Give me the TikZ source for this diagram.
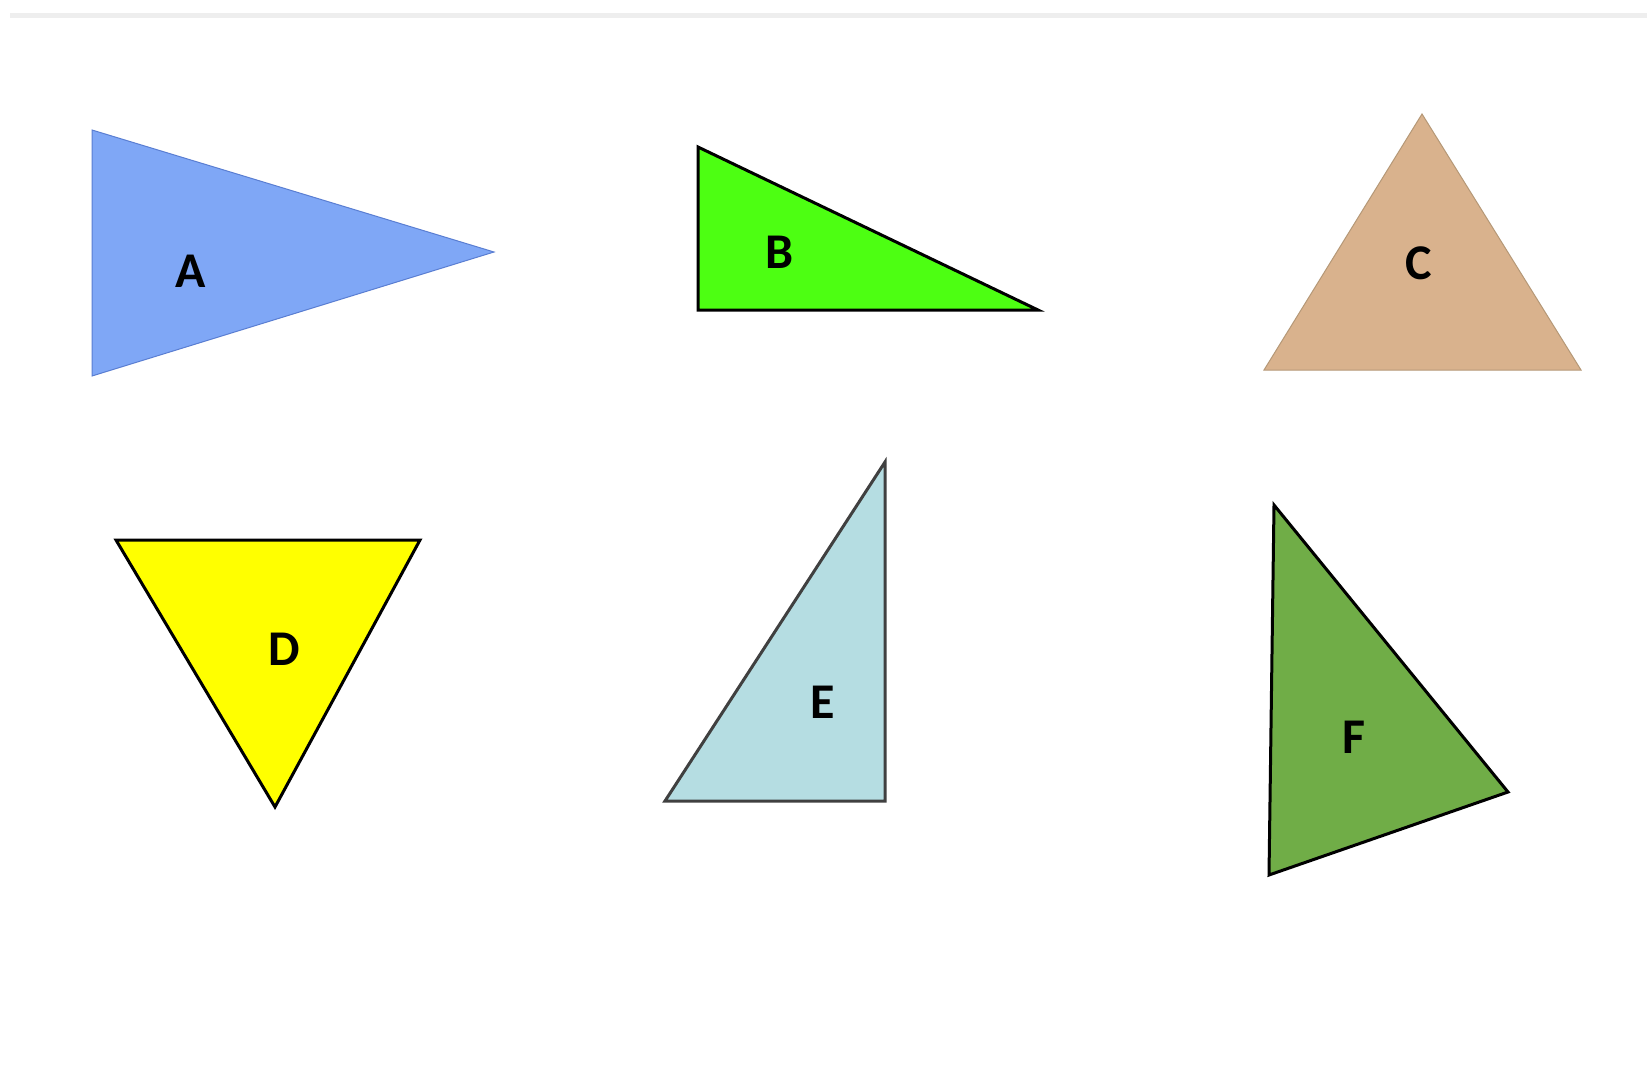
\documentclass[tikz,border=0pt]{standalone}
\usepackage{fontspec}
\setmainfont{Carlito}
\usepackage{xcolor}
\usepackage{tikz}
\usetikzlibrary{positioning}

\definecolor{triA}{HTML}{7FA7F6}
\definecolor{triAline}{HTML}{5A7ED2}
\definecolor{triB}{HTML}{4DFF12}
\definecolor{triC}{HTML}{D9B28D}
\definecolor{triCline}{HTML}{B59877}
\definecolor{triD}{HTML}{FFFF00}
\definecolor{triE}{HTML}{B5DDE2}
\definecolor{triF}{HTML}{70AD47}
\definecolor{topline}{HTML}{EEEEEE}

\begin{document}
\begin{tikzpicture}[
    x=1pt, y=-1pt,
    tri/.style={draw=black, line width=3pt, line join=miter},
    thin tri/.style={line width=1pt, line join=miter},
    lab/.style={font=\bfseries\fontsize{50}{50}\selectfont, inner sep=0pt}
]
    \useasboundingbox[fill=white] (0,0) rectangle (1647,1068);
    \fill[topline] (10,13) rectangle (1647,18);

    % top row
    \filldraw[thin tri, fill=triA, draw=triAline] (92,130) -- (494,252) -- (92,376) -- cycle;
    \filldraw[tri, fill=triB] (698,147) -- (1038,310) -- (698,310) -- cycle;
    \filldraw[thin tri, fill=triC, draw=triCline] (1422,114) -- (1581,370) -- (1264,370) -- cycle;

    % bottom row
    \filldraw[tri, fill=triD] (116,540) -- (420,540) -- (275,807) -- cycle;
    \filldraw[tri, fill=triE, draw=black!75] (885,462) -- (885,801) -- (665,801) -- cycle;
    \filldraw[tri, fill=triF] (1274,505) -- (1508,792) -- (1269,875) -- cycle;

    \node[lab] (labA) at (191,271) {A};
    \node[lab] (labB) at (780,252) {B};
    \node[lab] (labC) at (1419,263) {C};
    \node[lab] (labD) at (284,649) {D};
    \node[lab] (labE) at (823,702) {E};
    \node[lab] (labF) at (1354,737) {F};
\end{tikzpicture}
\end{document}
